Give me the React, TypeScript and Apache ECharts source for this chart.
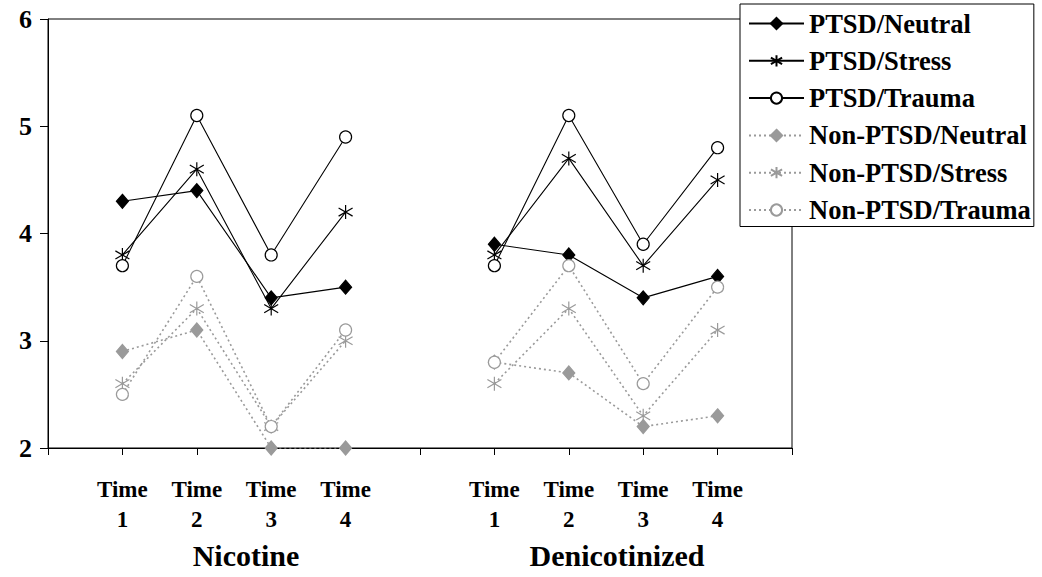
import React, { useEffect, useRef } from "react";
import * as echarts from "echarts";

const timeLabels = ["Time\n1", "Time\n2", "Time\n3", "Time\n4"];
const groupLabels = ["Nicotine", "Denicotinized"];
const yTicks = [2, 3, 4, 5, 6];

const seriesNames = [
  "PTSD/Neutral",
  "PTSD/Stress",
  "PTSD/Trauma",
  "Non-PTSD/Neutral",
  "Non-PTSD/Stress",
  "Non-PTSD/Trauma",
];

// Nicotine session, Time 1..4
const nicPtsdNeutral = [4.3, 4.4, 3.4, 3.5];
const nicPtsdStress = [3.8, 4.6, 3.3, 4.2];
const nicPtsdTrauma = [3.7, 5.1, 3.8, 4.9];
const nicNonNeutral = [2.9, 3.1, 2.0, 2.0];
const nicNonStress = [2.6, 3.3, 2.2, 3.0];
const nicNonTrauma = [2.5, 3.6, 2.2, 3.1];

// Denicotinized session, Time 1..4
const denPtsdNeutral = [3.9, 3.8, 3.4, 3.6];
const denPtsdStress = [3.8, 4.7, 3.7, 4.5];
const denPtsdTrauma = [3.7, 5.1, 3.9, 4.8];
const denNonNeutral = [2.8, 2.7, 2.2, 2.3];
const denNonStress = [2.6, 3.3, 2.3, 3.1];
const denNonTrauma = [2.8, 3.7, 2.6, 3.5];

const FONT = "Liberation Serif";
const GRAY = "#9a9a9a";
const STAR = "path://M12,0 L12,24 M1,5 L23,19 M1,19 L23,5";

export default function App() {
  const ref = useRef<HTMLDivElement>(null);

  useEffect(() => {
    if (!ref.current) return;
    const chart = echarts.init(ref.current, undefined, { renderer: "svg" });

    const categories = ["", ...timeLabels, "", ...timeLabels, ""];
    const join = (a: number[], b: number[]) => [null, ...a, null, ...b, null];

    const data = [
      join(nicPtsdNeutral, denPtsdNeutral),
      join(nicPtsdStress, denPtsdStress),
      join(nicPtsdTrauma, denPtsdTrauma),
      join(nicNonNeutral, denNonNeutral),
      join(nicNonStress, denNonStress),
      join(nicNonTrauma, denNonTrauma),
    ];

    const styles: any[] = [
      { symbol: "diamond", symbolSize: [12, 14], color: "#000", fill: "#000", dashed: false },
      { symbol: STAR, symbolSize: [14, 14], color: "#000", fill: "#000", dashed: false },
      { symbol: "circle", symbolSize: 12, color: "#000", fill: "#fff", dashed: false },
      { symbol: "diamond", symbolSize: [12, 14], color: GRAY, fill: GRAY, dashed: true },
      { symbol: STAR, symbolSize: [14, 14], color: GRAY, fill: GRAY, dashed: true },
      { symbol: "circle", symbolSize: 12, color: GRAY, fill: "#fff", dashed: true },
    ];

    const series = seriesNames.map((name, i) => {
      const s = styles[i];
      return {
        name,
        type: "line",
        data: data[i],
        connectNulls: false,
        symbol: s.symbol,
        symbolSize: s.symbolSize,
        showAllSymbol: true,
        lineStyle: {
          color: s.color,
          width: s.dashed ? 1.6 : 1.1,
          type: s.dashed ? [2, 3] : "solid",
        },
        itemStyle: {
          color: s.fill,
          borderColor: s.color,
          borderWidth: 1.2,
        },
        emphasis: { disabled: true },
      };
    });

    chart.setOption({
      animation: false,
      backgroundColor: "#fff",
      textStyle: { fontFamily: FONT },
      grid: {
        left: 48,
        right: 250,
        top: 19,
        bottom: 129,
        show: true,
        borderColor: "#000",
        borderWidth: 1,
        backgroundColor: "transparent",
      },
      xAxis: {
        type: "category",
        data: categories,
        boundaryGap: false,
        axisLine: { lineStyle: { color: "#000", width: 1 } },
        axisTick: { show: true, interval: 0, length: 7, lineStyle: { color: "#000" } },
        axisLabel: {
          interval: 0,
          margin: 26,
          color: "#000",
          fontFamily: FONT,
          fontWeight: "bold",
          fontSize: 23,
          lineHeight: 30,
        },
        splitLine: { show: false },
      },
      yAxis: {
        type: "value",
        min: yTicks[0],
        max: yTicks[yTicks.length - 1],
        interval: 1,
        axisLine: { show: true, lineStyle: { color: "#000", width: 1 } },
        axisTick: { show: true, length: 8, lineStyle: { color: "#000" } },
        axisLabel: {
          margin: 16,
          color: "#000",
          fontFamily: FONT,
          fontWeight: "bold",
          fontSize: 26,
        },
        splitLine: { show: false },
      },
      legend: {
        orient: "vertical",
        left: 740,
        top: 4,
        width: 294,
        padding: [6, 3, 3, 8],
        itemWidth: 55,
        itemHeight: 14,
        itemGap: 10.3,
        backgroundColor: "#fff",
        borderColor: "#000",
        borderWidth: 1,
        z: 10,
        textStyle: {
          color: "#000",
          fontFamily: FONT,
          fontWeight: "bold",
          fontSize: 26.5,
          lineHeight: 26,
        },
        data: seriesNames,
      },
      graphic: [
        {
          type: "text",
          x: 246,
          y: 555,
          style: {
            text: groupLabels[0],
            fontFamily: FONT,
            fontWeight: "bold",
            fontSize: 30,
            fill: "#000",
            textAlign: "center",
            textVerticalAlign: "middle",
          },
        },
        {
          type: "text",
          x: 617,
          y: 555,
          style: {
            text: groupLabels[1],
            fontFamily: FONT,
            fontWeight: "bold",
            fontSize: 30,
            fill: "#000",
            textAlign: "center",
            textVerticalAlign: "middle",
          },
        },
      ],
      series,
    });

    return () => chart.dispose();
  }, []);

  return (
    <div
      ref={ref}
      style={{ position: "absolute", left: 0, top: 0, width: 1042, height: 577 }}
    />
  );
}
